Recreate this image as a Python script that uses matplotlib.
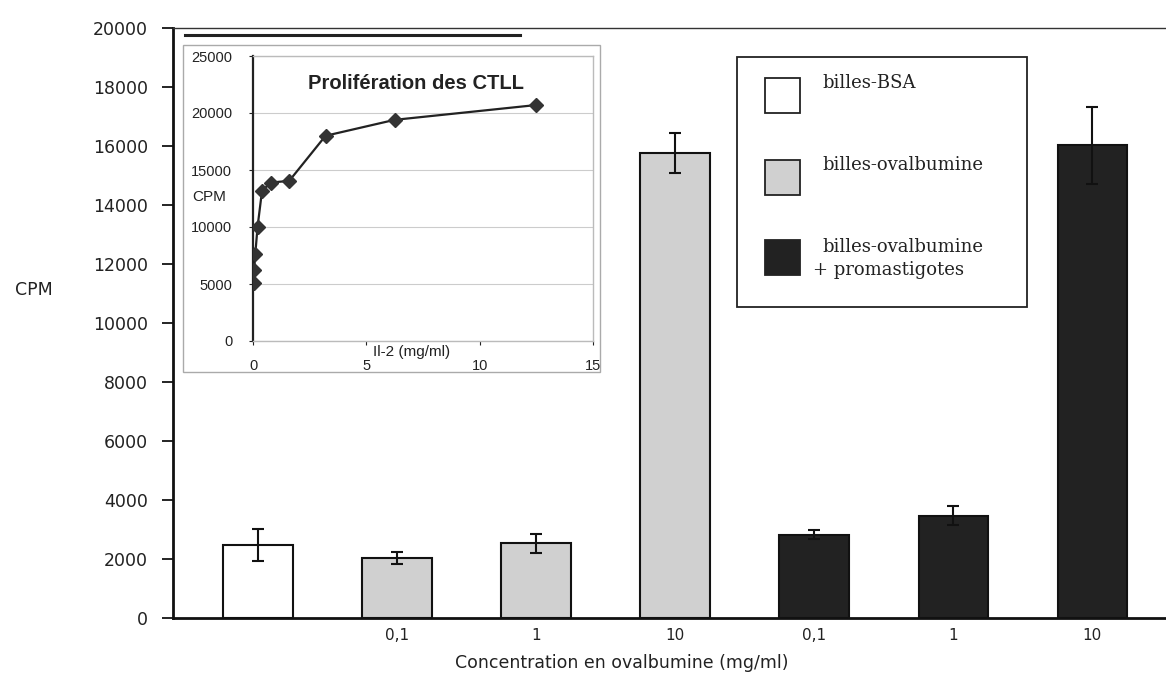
import numpy as np
import matplotlib.pyplot as plt
from matplotlib.patches import Rectangle

# ── Data ───────────────────────────────────────────────────────────────
GROUPS = ['billes-BSA', 'billes-ovalbumine', 'billes-ovalbumine\n+ promastigotes']
BAR_GROUP = [0, 1, 1, 1, 2, 2, 2]
BAR_LABELS = ['', '0,1', '1', '10', '0,1', '1', '10']
CPM_MEAN = [2480, 2030, 2540, 15750, 2830, 3470, 16020]
CPM_ERR = [540, 210, 320, 680, 160, 330, 1300]

IL2_CONC = [0.025, 0.05, 0.1, 0.2, 0.4, 0.8, 1.6, 3.2, 6.25, 12.5]
IL2_CPM = [5050, 6200, 7600, 10000, 13200, 13900, 14050, 18000, 19400, 20700]

COLORS = ['white', '#d0d0d0', '#222222']

W, H = 1166, 678
fig = plt.figure(figsize=(W / 100, H / 100), dpi=100)
fig.patch.set_facecolor('white')

SANS = ['DejaVu Sans']
ARIAL = ['Liberation Sans', 'DejaVu Sans']
SERIF = ['DejaVu Serif']

# ── Main bar chart ─────────────────────────────────────────────────────
ax = fig.add_axes([173 / W, 60 / H, (W - 173) / W, 590 / H])
x = np.arange(len(CPM_MEAN))
ax.bar(x, CPM_MEAN, width=0.5, color=[COLORS[g] for g in BAR_GROUP],
       edgecolor='#111111', linewidth=1.5, zorder=2)
ax.errorbar(x, CPM_MEAN, yerr=CPM_ERR, fmt='none', ecolor='#111111',
            elinewidth=1.5, capsize=4, capthick=1.5, zorder=3)

ax.set_xlim(-0.612, 6.53)
ax.set_ylim(0, 20000)
ax.set_yticks(range(0, 20001, 2000))
ax.set_yticklabels([str(v) for v in range(0, 20001, 2000)],
                   family=SANS, fontsize=12.5, color='#222222')
ax.set_xticks(x)
ax.set_xticklabels(BAR_LABELS, family=SANS, fontsize=11, color='#222222')
ax.tick_params(axis='x', length=0, pad=7)
ax.tick_params(axis='y', length=8, width=1.2, direction='out', pad=10)
for s in ['left', 'bottom']:
    ax.spines[s].set_linewidth(2.0)
    ax.spines[s].set_color('#111111')
ax.spines['top'].set_linewidth(1.0)
ax.spines['top'].set_color('#333333')
ax.spines['right'].set_visible(False)

fig.text(15 / W, 1 - 290 / H, 'CPM', family=SANS, fontsize=12.5,
         color='#222222', ha='left', va='center')
fig.text(622 / W, 1 - 663 / H, 'Concentration en ovalbumine (mg/ml)',
         family=SANS, fontsize=12.5, color='#222222', ha='center', va='center')

# ── Legend (drawn by hand) ─────────────────────────────────────────────
fig.patches.append(Rectangle((737 / W, 1 - 307 / H), 290 / W, 250 / H,
                             transform=fig.transFigure, facecolor='white',
                             edgecolor='#222222', linewidth=1.3, zorder=5))
sq_y = [78, 160, 240]
txt_y = [83, 165, 247]
for i, name in enumerate(GROUPS):
    fig.patches.append(Rectangle((765 / W, 1 - (sq_y[i] + 35) / H), 35 / W, 35 / H,
                                 transform=fig.transFigure, facecolor=COLORS[i],
                                 edgecolor='#222222', linewidth=1.3, zorder=6))
    lines = name.split('\n')
    fig.text(822 / W, 1 - txt_y[i] / H, lines[0],
             family=SERIF, fontsize=13, color='#222222', ha='left', va='center', zorder=7)
    if len(lines) > 1:
        fig.text(813 / W, 1 - 270 / H, lines[1], family=SERIF, fontsize=13,
                 color='#222222', ha='left', va='center', zorder=7)

# ── Inset: IL-2 proliferation curve ────────────────────────────────────
fig.patches.append(Rectangle((183 / W, 1 - 372 / H), 417 / W, 327 / H,
                             transform=fig.transFigure, facecolor='white',
                             edgecolor='#aaaaaa', linewidth=1.0, zorder=4))
fig.lines.append(plt.Line2D([185 / W, 520 / W], [1 - 35 / H, 1 - 35 / H],
                            transform=fig.transFigure, color='#222222', lw=2.2))

ins = fig.add_axes([253 / W, 1 - 341 / H, 340 / W, 285 / H], zorder=6)
ins.set_facecolor('white')
ins.plot(IL2_CONC, IL2_CPM, color='#222222', lw=1.6, marker='D',
         markersize=7, markerfacecolor='#333333', markeredgecolor='#333333',
         zorder=3)
ins.set_xlim(0, 15)
ins.set_ylim(0, 25000)
ins.set_xticks([0, 5, 10, 15])
ins.set_yticks(range(0, 25001, 5000))
ins.tick_params(axis='y', labelsize=10.5, colors='#222222', length=3, pad=12)
ins.tick_params(axis='x', labelsize=10.5, colors='#222222', length=3, pad=10)
for lab in ins.get_xticklabels() + ins.get_yticklabels():
    lab.set_family(ARIAL)
ins.grid(axis='y', color='#cccccc', lw=0.8, zorder=0)
ins.spines['left'].set_color('#222222')
ins.spines['left'].set_linewidth(1.6)
for s in ['top', 'right', 'bottom']:
    ins.spines[s].set_color('#bbbbbb')
    ins.spines[s].set_linewidth(1.0)
ins.text(0.48, 0.905, 'Prolifération des CTLL', transform=ins.transAxes,
         family=ARIAL, fontsize=14.5, fontweight='bold', color='#222222',
         ha='center', va='center')
ins.text(5.3, -0.04, 'Il-2 (mg/ml)', transform=ins.get_xaxis_transform(),
         family=ARIAL, fontsize=11, color='#222222', ha='left', va='center')
fig.text(192 / W, 1 - 197 / H, 'CPM', family=ARIAL, fontsize=11,
         color='#222222', ha='left', va='center', zorder=7)

fig.savefig('out.png', dpi=100, facecolor='white')
